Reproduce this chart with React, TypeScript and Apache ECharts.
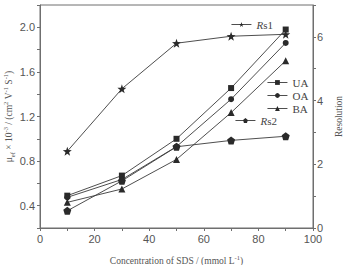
import React, { useEffect, useRef } from "react";
import * as echarts from "echarts";

// SDS concentration (mmol/L)
const concentration = [10, 30, 50, 70, 90];

// Effective mobility (×10^-3 cm^2 V^-1 s^-1), left axis
const mobilityUA = [0.49, 0.67, 1.0, 1.455, 1.98];
const mobilityOA = [0.475, 0.635, 0.93, 1.355, 1.86];
const mobilityBA = [0.43, 0.55, 0.815, 1.235, 1.70];

// Resolution, right axis
const resolutionRs1 = [2.41, 4.37, 5.8, 6.02, 6.08];
const resolutionRs2 = [0.54, 1.48, 2.55, 2.75, 2.88];

const STAR =
  "path://M0,-10 L2.35,-3.24 L9.51,-3.09 L3.8,1.24 L5.88,8.09 L0,4 L-5.88,8.09 L-3.8,1.24 L-9.51,-3.09 L-2.35,-3.24 Z";
const PENTAGON =
  "path://M0,-10 L9.51,-3.09 L5.88,8.09 L-5.88,8.09 L-9.51,-3.09 Z";

const SERIF = "'Liberation Serif', 'DejaVu Serif', serif";
const SANS = "'Liberation Sans', Arial, sans-serif";
const AXIS_GREY = "#6f6f6f";
const TEXT_GREY = "#555";
const INK = "#2a2a2a";

const richText = {
  t: { fontFamily: SERIF, fontSize: 9.5, color: TEXT_GREY, lineHeight: 14, verticalAlign: "middle" },
  s: { fontFamily: SERIF, fontSize: 6.5, color: TEXT_GREY, lineHeight: 14, verticalAlign: "bottom" },
  p: { fontFamily: SERIF, fontSize: 6.5, color: TEXT_GREY, lineHeight: 14, verticalAlign: "top" },
};

const legendRich = {
  i: { fontFamily: SERIF, fontSize: 11, fontStyle: "italic", color: "#444" },
  n: { fontFamily: SERIF, fontSize: 11, color: "#444" },
};

const legendFormatter = (name: string) =>
  name.startsWith("Rs") ? `{i|R}{n|${name.slice(1)}}` : `{n|${name}}`;

function makeLine(
  name: string,
  data: number[],
  symbol: string,
  symbolSize: number,
  yAxisIndex: number
) {
  return {
    name,
    type: "line",
    yAxisIndex,
    data: concentration.map((c, i) => [c, data[i]]),
    symbol,
    symbolSize,
    showSymbol: true,
    lineStyle: { color: "#3a3a3a", width: 0.9 },
    itemStyle: { color: INK, borderWidth: 0 },
    emphasis: { disabled: true },
  };
}

export default function App() {
  const ref = useRef<HTMLDivElement>(null);

  useEffect(() => {
    if (!ref.current) return;
    const chart = echarts.init(ref.current, null, { renderer: "svg" });

    const legendBase = {
      itemWidth: 20,
      itemHeight: 6,
      itemGap: 2,
      formatter: legendFormatter,
      lineStyle: { width: 0.9, color: "#3a3a3a" },
      textStyle: {
        fontFamily: SERIF,
        fontSize: 11,
        color: "#444",
        rich: legendRich,
      },
      selectedMode: false,
      padding: 0,
    };

    chart.setOption({
      animation: false,
      backgroundColor: "#fff",
      grid: {
        left: 40,
        right: 32,
        top: 5,
        bottom: 37,
        containLabel: false,
        outerBoundsMode: "none",
        show: true,
        borderColor: AXIS_GREY,
        borderWidth: 1,
        backgroundColor: "transparent",
      },
      legend: [
        { ...legendBase, data: ["Rs1"], left: 231, top: 19 },
        {
          ...legendBase,
          data: ["UA", "OA", "BA"],
          orient: "vertical",
          left: 267,
          top: 77,
        },
        { ...legendBase, data: ["Rs2"], left: 235, top: 115 },
      ],
      xAxis: {
        type: "value",
        min: 0,
        max: 100,
        interval: 10,
        name: "{t|Concentration of SDS / (mmol L}{p|-1}{t|)}",
        nameLocation: "middle",
        nameGap: 26,
        nameMoveOverlap: false,
        nameTextStyle: { rich: richText },
        axisLine: { show: true, lineStyle: { color: AXIS_GREY, width: 1 } },
        axisTick: { show: true, inside: false, length: 3, lineStyle: { color: AXIS_GREY } },
        axisLabel: {
          fontFamily: SANS,
          fontSize: 11,
          color: TEXT_GREY,
          margin: 5,
          formatter: (v: number) => (v % 20 === 0 ? String(v) : ""),
        },
        splitLine: { show: false },
      },
      yAxis: [
        {
          type: "value",
          position: "left",
          min: 0.2,
          max: 2.2,
          interval: 0.2,
          name:
            "{t|μ}{s|ef}{t| × 10}{p|-3}{t| / (cm}{p|2}{t| V}{p|-1}{t| S}{p|-1}{t|)}",
          nameLocation: "middle",
          nameGap: 24,
          nameRotate: 90,
          nameMoveOverlap: false,
          nameTextStyle: { rich: richText },
          axisLine: { show: true, lineStyle: { color: AXIS_GREY, width: 1 } },
          axisTick: { show: true, length: 3, lineStyle: { color: AXIS_GREY } },
          axisLabel: {
            fontFamily: SANS,
            fontSize: 11,
            color: TEXT_GREY,
            margin: 5,
            formatter: (v: number) =>
              Math.round(v * 10) % 4 === 0 ? v.toFixed(1) : "",
          },
          splitLine: { show: false },
        },
        {
          type: "value",
          position: "right",
          min: 0,
          max: 7,
          interval: 1,
          name: "Resolution",
          nameLocation: "middle",
          nameGap: 21,
          nameRotate: 90,
          nameMoveOverlap: false,
          nameTextStyle: { fontFamily: SERIF, fontSize: 9.5, color: TEXT_GREY },
          axisLine: { show: true, lineStyle: { color: AXIS_GREY, width: 1 } },
          axisTick: { show: true, length: 3, lineStyle: { color: AXIS_GREY } },
          axisLabel: {
            fontFamily: SANS,
            fontSize: 11,
            color: TEXT_GREY,
            margin: 4,
            formatter: (v: number) => (v % 2 === 0 ? String(v) : ""),
          },
          splitLine: { show: false },
        },
      ],
      series: [
        makeLine("Rs1", resolutionRs1, STAR, 9, 1),
        makeLine("UA", mobilityUA, "rect", 6, 0),
        makeLine("OA", mobilityOA, "circle", 6, 0),
        makeLine("BA", mobilityBA, "triangle", 7, 0),
        makeLine("Rs2", resolutionRs2, PENTAGON, 8, 1),
      ],
    });

    return () => chart.dispose();
  }, []);

  return (
    <div
      ref={ref}
      style={{ width: 345, height: 265, position: "absolute", left: 0, top: 0 }}
    />
  );
}
